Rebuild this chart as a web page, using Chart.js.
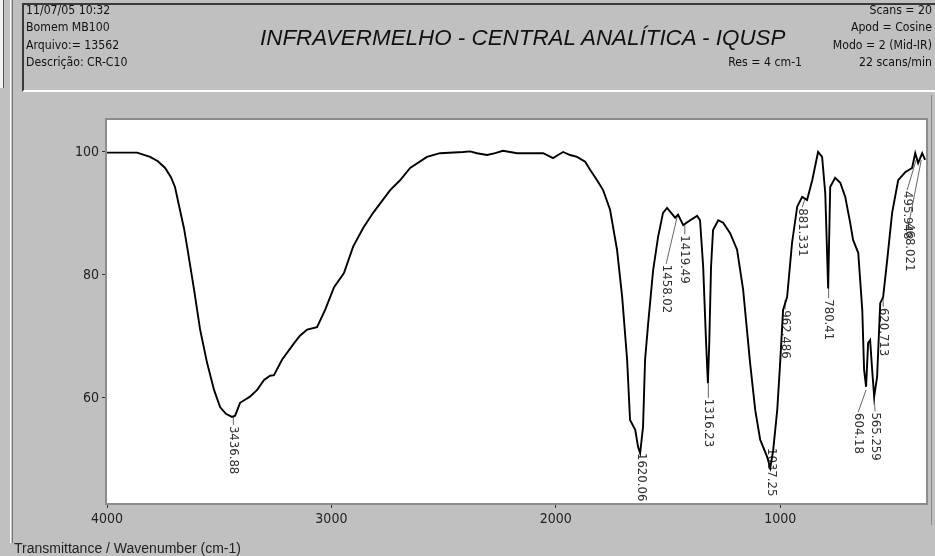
<!DOCTYPE html>
<html>
<head>
<meta charset="utf-8">
<title>Infravermelho - CR-C10</title>
<script src="https://cdn.jsdelivr.net/npm/chart.js@4.4.1/dist/chart.umd.min.js"></script>
<style>
  html, body { margin: 0; padding: 0; }
  body {
    width: 935px; height: 556px; overflow: hidden; position: relative;
    background: #c0c0c0; color: #111;
    font-family: "Liberation Sans Narrow", "DejaVu Sans Condensed", "Liberation Sans", Arial, sans-serif;
  }
  #chart { position: absolute; left: 0; top: 0; }
  .edge-white { position: absolute; left: 10px; top: 0; width: 1px; height: 543px; background: #fff; }
  .edge-dark { position: absolute; left: 12px; top: 0; width: 1px; height: 543px; background: #7a7a7a; }
  .corner { position: absolute; left: 0; top: 0; width: 3px; height: 88px; background: #f2f2f2; border-right: 1px solid #555; }
  .right-edge { position: absolute; left: 931px; top: 95px; width: 1px; height: 430px; background: #8a8a8a; }
  .header {
    position: absolute; left: 22px; top: 3px; width: 913px; height: 89px; box-sizing: border-box;
    border-top: 2px solid #3a3a3a; border-left: 2px solid #3a3a3a; border-bottom: 2px solid #fff;
  }
  .info { position: absolute; top: -3px; font-size: 12.2px; line-height: 17.4px; }
  .info div { white-space: nowrap; }
  .info.left { left: 2px; }
  .info.right { right: 3px; text-align: right; }
  .gap { padding-left: 57px; }
  .title {
    position: absolute; left: 236px; width: 524px; top: 20px; text-align: center; white-space: nowrap;
    font-family: "Liberation Sans", Arial, sans-serif; font-style: italic; font-size: 22.4px;
  }
  .footer {
    position: absolute; left: 14px; top: 540px; font-size: 14px; white-space: pre;
    font-family: "Liberation Sans", Arial, sans-serif; color: #222;
  }
</style>
</head>
<body>
<div class="corner"></div>
<div class="edge-white"></div>
<div class="edge-dark"></div>
<canvas id="chart" width="935" height="556"></canvas>
<div class="right-edge"></div>
<div class="header">
  <div class="info left">
    <div>11/07/05 10:32</div>
    <div>Bomem MB100</div>
    <div>Arquivo:= 13562</div>
    <div>Descrição: CR-C10</div>
  </div>
  <div class="title">INFRAVERMELHO - CENTRAL ANALÍTICA - IQUSP</div>
  <div class="info right">
    <div>Scans = 20</div>
    <div>Apod = Cosine</div>
    <div>Modo = 2 (Mid-IR)</div>
    <div>Res = 4 cm-1<span class="gap">22 scans/min</span></div>
  </div>
</div>
<div class="footer">Transmittance / Wavenumber (cm-1)</div>

<script>
/* spectrum: wavenumber (cm-1) and transmittance (%) */
const wavenumbers = [
  4000, 3942, 3866, 3808, 3773, 3741, 3715, 3697, 3675, 3657,
  3643, 3612, 3585, 3554, 3523, 3496, 3470, 3443, 3429, 3407,
  3385, 3363, 3331, 3300, 3273, 3256, 3220, 3166, 3140, 3108,
  3064, 3028, 2988, 2944, 2903, 2859, 2814, 2738, 2694, 2649,
  2574, 2516, 2413, 2382, 2351, 2306, 2270, 2235, 2204, 2172,
  2114, 2056, 2012, 1990, 1967, 1936, 1905, 1869, 1847, 1816,
  1789, 1758, 1727, 1704, 1682, 1669, 1646, 1633, 1624, 1611,
  1602, 1588, 1566, 1544, 1522, 1504, 1481, 1468, 1455, 1432,
  1401, 1370, 1357, 1343, 1330, 1322, 1316, 1308, 1299, 1276,
  1254, 1223, 1192, 1165, 1134, 1111, 1089, 1058, 1044, 1031,
  1013, 1000, 987, 969, 947, 924, 902, 880, 857, 831,
  813, 799, 786, 777, 755, 732, 710, 688, 675, 652,
  634, 626, 617, 608, 599, 590, 581, 568, 554, 541,
  523, 501, 474, 443, 412, 398, 385, 367, 354
];
const transmittance = [
  99.9, 99.9, 99.9, 99.2, 98.5, 97.4, 95.9, 94.3, 90.6, 87.6,
  84.6, 77.6, 71.1, 65.7, 61.3, 58.5, 57.4, 56.9, 57.1, 59.2,
  59.7, 60.2, 61.3, 62.9, 63.6, 63.7, 66.2, 68.9, 70.1, 71.1,
  71.5, 74.3, 78.0, 80.3, 84.6, 87.6, 90.1, 93.8, 95.4, 97.4,
  99.2, 99.8, 100.0, 100.1, 99.8, 99.5, 99.8, 100.2, 100.0, 99.8,
  99.8, 99.8, 99.0, 99.5, 100.0, 99.5, 99.2, 98.4, 97.1, 95.4,
  93.8, 90.6, 84.1, 76.4, 66.2, 56.4, 54.8, 52.0, 51.0, 55.3,
  66.2, 72.2, 80.8, 86.2, 90.1, 90.9, 89.9, 89.3, 89.8, 88.1,
  88.9, 89.6, 88.9, 81.3, 68.9, 62.4, 68.9, 81.3, 87.3, 88.9,
  88.5, 86.8, 84.1, 77.6, 65.7, 58.0, 53.2, 50.4, 48.6, 51.5,
  58.0, 65.7, 74.3, 76.4, 85.2, 91.1, 92.7, 92.2, 95.4, 100.0,
  99.2, 93.3, 77.8, 94.3, 95.8, 95.0, 92.7, 88.5, 85.7, 83.6,
  74.3, 64.6, 61.8, 68.9, 69.4, 64.6, 60.2, 63.4, 75.4, 76.4,
  82.4, 90.1, 95.4, 96.7, 97.4, 99.8, 98.2, 99.8, 98.7
];

const xTicks = [4000, 3000, 2000, 1000];
const yTicks = [100, 80, 60];
const xMin = 350, xMax = 4000;
const yMin = 42.9, yMax = 105.2;

/* peak labels: text, leader start on the curve, leader end where the text begins */
const peakLabels   = ['3436.88', '1620.06', '1458.02', '1419.49', '1316.23', '1037.25', '962.486', '881.331', '780.41', '620.713', '604.18', '565.259', '495.948', '468.021'];
const peakAnchorWn = [3436.88, 1620.06, 1458, 1425, 1320, 1040, 978, 889, 784, 541, 617, 581, 394, 371];
const peakAnchorT  = [57.0, 51.2, 89.6, 88.2, 62.4, 52.0, 75.9, 92.4, 78.0, 76.3, 61.3, 60.2, 98.7, 98.7];
const peakTextWn   = [3436.88, 1620.06, 1508, 1425, 1320, 1040, 978, 902, 784, 541, 652, 577, 434, 425];
const peakTextT    = [55.6, 51.2, 81.8, 86.6, 60.0, 52.0, 74.4, 91.0, 76.2, 74.8, 57.7, 57.8, 93.8, 88.6];

const narrow = '"Liberation Sans Narrow", "DejaVu Sans Condensed", "Liberation Sans", Arial, sans-serif';

const plotFrame = {
  id: 'plotFrame',
  beforeDraw(chart) {
    const {ctx, chartArea: a} = chart;
    ctx.save();
    ctx.fillStyle = '#ffffff';
    ctx.fillRect(a.left, a.top, a.width, a.height);
    ctx.restore();
  },
  // labels go under the curve, like in the original print
  beforeDatasetsDraw(chart) {
    const {ctx} = chart;
    const x = chart.scales.x, y = chart.scales.y;
    ctx.save();
    ctx.font = '13px ' + narrow;
    ctx.fillStyle = '#333';
    ctx.strokeStyle = '#666';
    ctx.lineWidth = 1;
    ctx.textBaseline = 'middle';
    ctx.textAlign = 'left';
    peakLabels.forEach(function(label, i) {
      const ax = x.getPixelForValue(peakAnchorWn[i]);
      const ay = y.getPixelForValue(peakAnchorT[i]);
      const tx = x.getPixelForValue(peakTextWn[i]);
      const ty = y.getPixelForValue(peakTextT[i]);
      ctx.beginPath();
      ctx.moveTo(ax, ay);
      ctx.lineTo(tx, ty);
      ctx.stroke();
      ctx.save();
      ctx.translate(tx, ty);
      ctx.rotate(Math.PI / 2);
      ctx.fillText(label, 1, 0);
      ctx.restore();
    });
    ctx.restore();
  },
  afterDraw(chart) {
    const {ctx, chartArea: a} = chart;
    ctx.save();
    ctx.strokeStyle = '#8c8c8c';
    ctx.lineWidth = 2;
    ctx.strokeRect(a.left - 1, a.top - 1, a.width + 2, a.height + 2);
    ctx.restore();
  }
};

const chart = new Chart(document.getElementById('chart'), {
  type: 'line',
  data: {
    datasets: [{
      data: wavenumbers.map(function(w, i) { return {x: w, y: transmittance[i]}; }),
      borderColor: '#000',
      borderWidth: 1.9,
      pointRadius: 0,
      tension: 0,
      fill: false,
    }],
  },
  options: {
    responsive: false,
    animation: false,
    events: [],
    layout: {padding: {top: 120, left: 62, right: 9, bottom: 28}},
    plugins: {legend: {display: false}, tooltip: {enabled: false}},
    scales: {
      x: {
        type: 'linear', reverse: true, min: xMin, max: xMax,
        afterBuildTicks: function(axis) { axis.ticks = xTicks.map(function(v) { return {value: v}; }); },
        afterFit: function(axis) { axis.height = 25; },
        grid: {drawOnChartArea: false, drawTicks: true, tickLength: 5, color: '#333'},
        border: {display: false},
        ticks: {color: '#222', font: {family: narrow, size: 14}, padding: 3, maxRotation: 0,
          callback: function(v) { return String(v); }},
      },
      y: {
        min: yMin, max: yMax,
        afterBuildTicks: function(axis) { axis.ticks = yTicks.map(function(v) { return {value: v}; }); },
        afterFit: function(axis) { axis.width = 45; },
        grid: {drawOnChartArea: false, drawTicks: true, tickLength: 5, color: '#333'},
        border: {display: false},
        ticks: {color: '#222', font: {family: narrow, size: 14}, padding: 3,
          callback: function(v) { return String(v); }},
      },
    },
  },
  plugins: [plotFrame],
});
</script>
</body>
</html>
